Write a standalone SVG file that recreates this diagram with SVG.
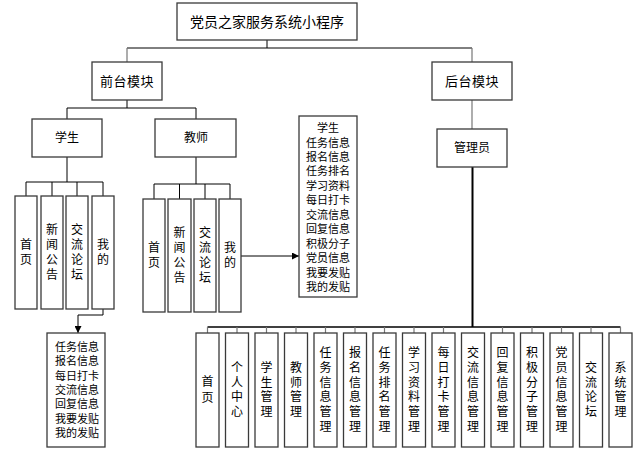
<svg xmlns="http://www.w3.org/2000/svg" width="643" height="454" viewBox="0 0 643 454">
<defs>
<style>
.box{fill:#fff;stroke:#3a3a3a;stroke-width:1.3}
.t{font-family:"Liberation Sans","Noto Sans CJK SC",sans-serif;fill:#000;text-anchor:middle;dominant-baseline:central}
.v{font-size:12px}
.l{font-size:11px}
.ln{fill:none;stroke:#000;stroke-width:1}
.g{fill:none;stroke:#777;stroke-width:1.2}
.thick{fill:none;stroke:#000;stroke-width:2}
</style>
<marker id="arr" viewBox="0 0 10 10" refX="10" refY="5" markerWidth="7" markerHeight="7" markerUnits="userSpaceOnUse" orient="auto">
<path d="M0,0 L10,5 L0,10 z" fill="#000"/>
</marker>
</defs>
<rect width="643" height="454" fill="#fff"/>
<g id="connectors">
<path class="ln" d="M267,40 V48 M127,48 H472"/>
<path class="g" d="M127,48 V62 M472,48 V62"/>
<path class="ln" d="M127,100 V108 M67,108 H196 M67,108 V119 M196,108 V119"/>
<path class="g" d="M472,100 V129"/>
<path class="ln" d="M67,157 V182 M26,182 H103 M26,182 V196 M52,182 V196 M77,182 V196 M103,182 V196"/>
<path class="ln" d="M196,157 V184 M154,184 H230 M154,184 V199 M179.5,184 V199 M205,184 V199 M230,184 V199"/>
<path class="ln" d="M103,309 V315 H78 V333" marker-end="url(#arr)"/>
<path class="ln" d="M241,256 H299" marker-end="url(#arr)"/>
<path class="thick" d="M472.5,167 V327"/>
<path class="ln" d="M207.5,327 H620.5" style="stroke-width:1.6"/>
<path class="g" d="M207.5,327 V333 M237,327 V333 M266.5,327 V333 M296,327 V333 M325.5,327 V333 M355,327 V333 M384.5,327 V333 M414,327 V333 M443.5,327 V333 M502.5,327 V333 M532,327 V333 M561.5,327 V333 M591,327 V333 M620.5,327 V333"/>
</g>
<g id="root"><rect class="box" x="177" y="3" width="180" height="37"/><text class="t" x="267" y="22" font-size="14">党员之家服务系统小程序</text></g>
<g id="front"><rect class="box" x="92" y="62" width="70" height="38"/><text class="t" x="127" y="81" font-size="13" letter-spacing="0.5">前台模块</text></g>
<g id="back"><rect class="box" x="432" y="62" width="80" height="38"/><text class="t" x="472" y="81" font-size="13" letter-spacing="0.5">后台模块</text></g>
<g id="student"><rect class="box" x="32" y="119" width="70" height="38"/><text class="t" x="67" y="138" font-size="12">学生</text></g>
<g id="teacher"><rect class="box" x="155" y="119" width="81" height="38"/><text class="t" x="196" y="138" font-size="12">教师</text></g>
<g id="admin"><rect class="box" x="437" y="129" width="70" height="38"/><text class="t" x="472" y="148" font-size="12">管理员</text></g>

<g id="s-home"><rect class="box" x="15" y="196" width="22" height="113"/><text class="t v"><tspan x="26" y="245">首</tspan><tspan x="26" y="260">页</tspan></text></g>
<g id="s-news"><rect class="box" x="41" y="196" width="22" height="113"/><text class="t v"><tspan x="52" y="230">新</tspan><tspan x="52" y="245">闻</tspan><tspan x="52" y="260">公</tspan><tspan x="52" y="275">告</tspan></text></g>
<g id="s-forum"><rect class="box" x="66" y="196" width="22" height="113"/><text class="t v"><tspan x="77" y="230">交</tspan><tspan x="77" y="245">流</tspan><tspan x="77" y="260">论</tspan><tspan x="77" y="275">坛</tspan></text></g>
<g id="s-mine"><rect class="box" x="92" y="196" width="22" height="113"/><text class="t v"><tspan x="103" y="245">我</tspan><tspan x="103" y="260">的</tspan></text></g>

<g id="t-home"><rect class="box" x="143" y="199" width="22" height="113"/><text class="t v"><tspan x="154" y="248">首</tspan><tspan x="154" y="263">页</tspan></text></g>
<g id="t-news"><rect class="box" x="168" y="199" width="23" height="113"/><text class="t v"><tspan x="179.5" y="233">新</tspan><tspan x="179.5" y="248">闻</tspan><tspan x="179.5" y="263">公</tspan><tspan x="179.5" y="278">告</tspan></text></g>
<g id="t-forum"><rect class="box" x="194" y="199" width="22" height="113"/><text class="t v"><tspan x="205" y="233">交</tspan><tspan x="205" y="248">流</tspan><tspan x="205" y="263">论</tspan><tspan x="205" y="278">坛</tspan></text></g>
<g id="t-mine"><rect class="box" x="219" y="199" width="22" height="113"/><text class="t v"><tspan x="230" y="248">我</tspan><tspan x="230" y="263">的</tspan></text></g>

<g id="t-list"><rect class="box" x="299" y="116" width="58" height="181"/>
<text class="t l"><tspan x="328" y="128">学生</tspan><tspan x="328" y="142.5">任务信息</tspan><tspan x="328" y="157">报名信息</tspan><tspan x="328" y="171.4">任务排名</tspan><tspan x="328" y="185.8">学习资料</tspan><tspan x="328" y="200.3">每日打卡</tspan><tspan x="328" y="214.7">交流信息</tspan><tspan x="328" y="229.2">回复信息</tspan><tspan x="328" y="243.6">积极分子</tspan><tspan x="328" y="258">党员信息</tspan><tspan x="328" y="272.5">我要发贴</tspan><tspan x="328" y="287">我的发贴</tspan></text></g>

<g id="s-list"><rect class="box" x="47" y="333" width="58" height="114"/>
<text class="t l"><tspan x="77" y="347">任务信息</tspan><tspan x="77" y="361.3">报名信息</tspan><tspan x="77" y="375.6">每日打卡</tspan><tspan x="77" y="390">交流信息</tspan><tspan x="77" y="404.3">回复信息</tspan><tspan x="77" y="418.6">我要发贴</tspan><tspan x="77" y="433">我的发贴</tspan></text></g>

<g id="a1"><rect class="box" x="196" y="333" width="23" height="114"/><text class="t v"><tspan x="207.5" y="382">首</tspan><tspan x="207.5" y="398">页</tspan></text></g>
<g id="a2"><rect class="box" x="225.5" y="333" width="23" height="114"/><text class="t v"><tspan x="237" y="368">个</tspan><tspan x="237" y="383">人</tspan><tspan x="237" y="397">中</tspan><tspan x="237" y="412">心</tspan></text></g>
<g id="a3"><rect class="box" x="255" y="333" width="23" height="114"/><text class="t v"><tspan x="266.5" y="368">学</tspan><tspan x="266.5" y="383">生</tspan><tspan x="266.5" y="397">管</tspan><tspan x="266.5" y="412">理</tspan></text></g>
<g id="a4"><rect class="box" x="284.5" y="333" width="23" height="114"/><text class="t v"><tspan x="296" y="368">教</tspan><tspan x="296" y="383">师</tspan><tspan x="296" y="397">管</tspan><tspan x="296" y="412">理</tspan></text></g>
<g id="a5"><rect class="box" x="314" y="333" width="23" height="114"/><text class="t v"><tspan x="325.5" y="353">任</tspan><tspan x="325.5" y="368">务</tspan><tspan x="325.5" y="383">信</tspan><tspan x="325.5" y="397">息</tspan><tspan x="325.5" y="412">管</tspan><tspan x="325.5" y="427">理</tspan></text></g>
<g id="a6"><rect class="box" x="343.5" y="333" width="23" height="114"/><text class="t v"><tspan x="355" y="353">报</tspan><tspan x="355" y="368">名</tspan><tspan x="355" y="383">信</tspan><tspan x="355" y="397">息</tspan><tspan x="355" y="412">管</tspan><tspan x="355" y="427">理</tspan></text></g>
<g id="a7"><rect class="box" x="373" y="333" width="23" height="114"/><text class="t v"><tspan x="384.5" y="353">任</tspan><tspan x="384.5" y="368">务</tspan><tspan x="384.5" y="383">排</tspan><tspan x="384.5" y="397">名</tspan><tspan x="384.5" y="412">管</tspan><tspan x="384.5" y="427">理</tspan></text></g>
<g id="a8"><rect class="box" x="402.5" y="333" width="23" height="114"/><text class="t v"><tspan x="414" y="353">学</tspan><tspan x="414" y="368">习</tspan><tspan x="414" y="383">资</tspan><tspan x="414" y="397">料</tspan><tspan x="414" y="412">管</tspan><tspan x="414" y="427">理</tspan></text></g>
<g id="a9"><rect class="box" x="432" y="333" width="23" height="114"/><text class="t v"><tspan x="443.5" y="353">每</tspan><tspan x="443.5" y="368">日</tspan><tspan x="443.5" y="383">打</tspan><tspan x="443.5" y="397">卡</tspan><tspan x="443.5" y="412">管</tspan><tspan x="443.5" y="427">理</tspan></text></g>
<g id="a10"><rect class="box" x="461.5" y="333" width="23" height="114"/><text class="t v"><tspan x="473" y="353">交</tspan><tspan x="473" y="368">流</tspan><tspan x="473" y="383">信</tspan><tspan x="473" y="397">息</tspan><tspan x="473" y="412">管</tspan><tspan x="473" y="427">理</tspan></text></g>
<g id="a11"><rect class="box" x="491" y="333" width="23" height="114"/><text class="t v"><tspan x="502.5" y="353">回</tspan><tspan x="502.5" y="368">复</tspan><tspan x="502.5" y="383">信</tspan><tspan x="502.5" y="397">息</tspan><tspan x="502.5" y="412">管</tspan><tspan x="502.5" y="427">理</tspan></text></g>
<g id="a12"><rect class="box" x="520.5" y="333" width="23" height="114"/><text class="t v"><tspan x="532" y="353">积</tspan><tspan x="532" y="368">极</tspan><tspan x="532" y="383">分</tspan><tspan x="532" y="397">子</tspan><tspan x="532" y="412">管</tspan><tspan x="532" y="427">理</tspan></text></g>
<g id="a13"><rect class="box" x="550" y="333" width="23" height="114"/><text class="t v"><tspan x="561.5" y="353">党</tspan><tspan x="561.5" y="368">员</tspan><tspan x="561.5" y="383">信</tspan><tspan x="561.5" y="397">息</tspan><tspan x="561.5" y="412">管</tspan><tspan x="561.5" y="427">理</tspan></text></g>
<g id="a14"><rect class="box" x="579.5" y="333" width="23" height="114"/><text class="t v"><tspan x="591" y="368">交</tspan><tspan x="591" y="383">流</tspan><tspan x="591" y="397">论</tspan><tspan x="591" y="412">坛</tspan></text></g>
<g id="a15"><rect class="box" x="609" y="333" width="23" height="114"/><text class="t v"><tspan x="620.5" y="368">系</tspan><tspan x="620.5" y="383">统</tspan><tspan x="620.5" y="397">管</tspan><tspan x="620.5" y="412">理</tspan></text></g>
</svg>
